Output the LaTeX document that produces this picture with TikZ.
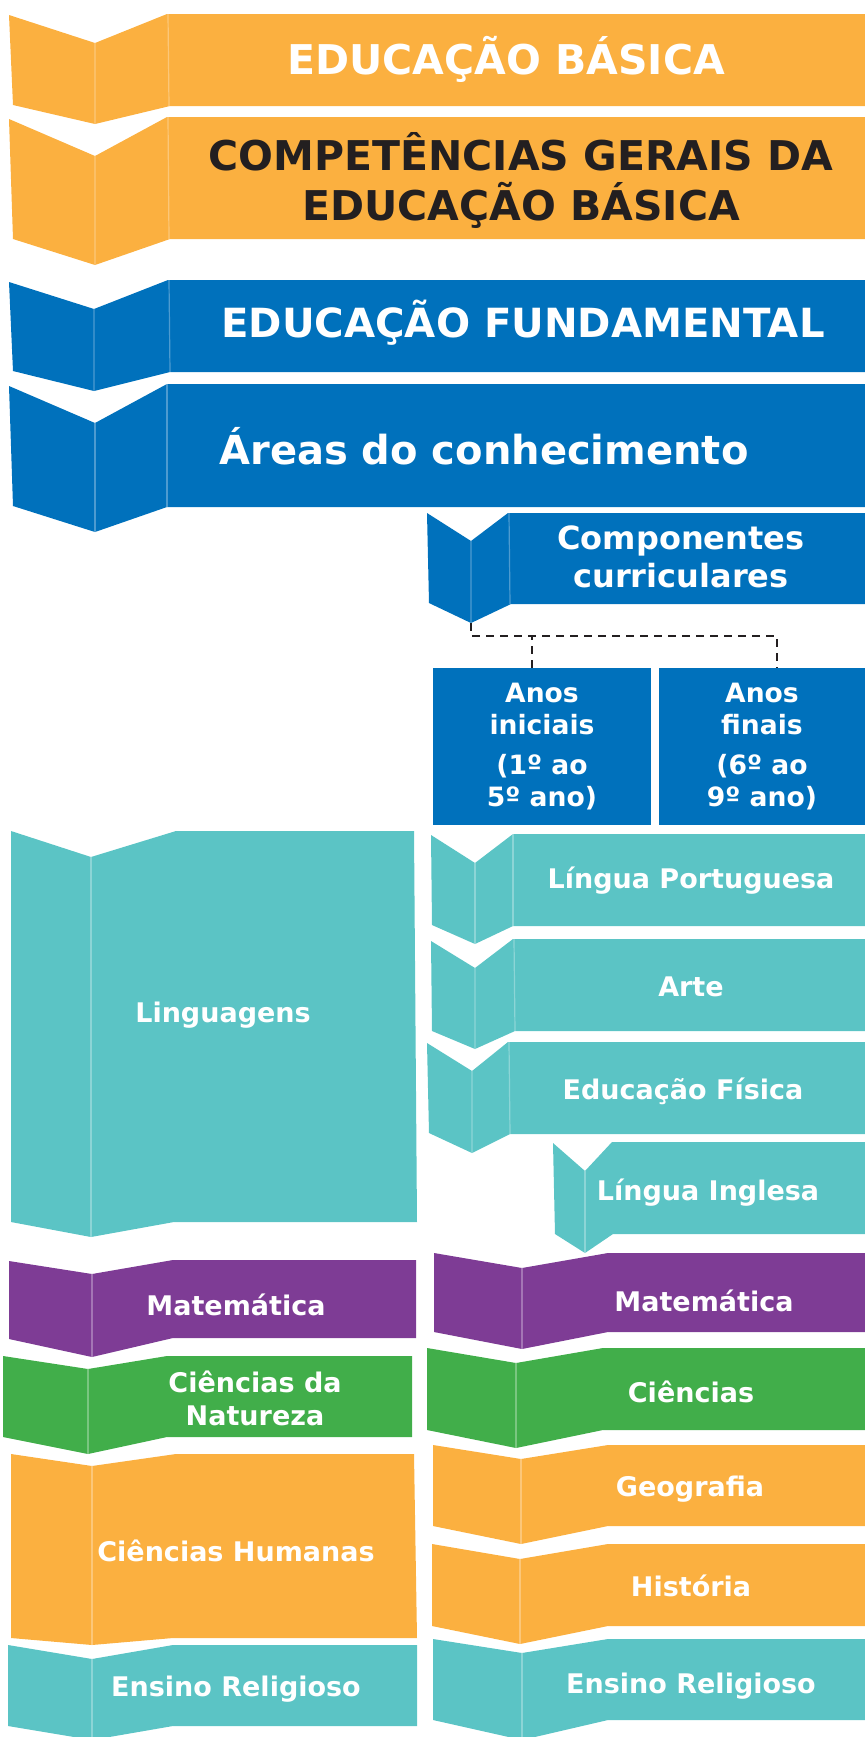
\documentclass[tikz,border=0pt]{standalone}
\usepackage{fontspec}
\setmainfont{DejaVu Sans}
\definecolor{laranja}{RGB}{251,176,64}
\definecolor{azul}{RGB}{0,113,188}
\definecolor{turquesa}{RGB}{91,196,197}
\definecolor{roxo}{RGB}{126,60,149}
\definecolor{verde}{RGB}{65,174,74}
\definecolor{escuro}{RGB}{35,31,32}
\tikzset{
  faixa/.style={fill=#1},
  dobra/.style={draw=white, draw opacity=0.3, line width=0.6pt},
  titulo/.style={text=white, font=\fontsize{20.5}{25}\selectfont\bfseries, align=center},
  rotulo/.style={text=white, font=\fontsize{13.5}{16.5}\selectfont\bfseries, align=center},
  caixa/.style={fill=azul, text=white, font=\fontsize{13.3}{16}\selectfont\bfseries, align=center, inner sep=0pt, minimum height=78.5pt},
  tracejado/.style={draw=escuro, line width=1pt, dash pattern=on 4pt off 3pt}
}
\begin{document}
\begin{tikzpicture}[x=0.5pt,y=-0.5pt]
	\useasboundingbox (0,0) rectangle (865,1737);
	\fill[faixa=laranja] (9,15)--(95,43)--(167,14)--(865,14)--(865,106)--(170,106)--(95,124)--(13,105)--cycle;
	\fill[faixa=laranja] (9,119)--(95,156)--(167,117)--(865,117)--(865,239)--(170,239)--(95,265)--(13,239)--cycle;
	\fill[faixa=azul] (9,282)--(94,309)--(168,280)--(865,280)--(865,372)--(170,372)--(94,391)--(13,371)--cycle;
	\fill[faixa=azul] (9,386)--(95,423)--(167,384)--(865,384)--(865,507)--(167,507)--(95,532)--(13,506)--cycle;
	\fill[faixa=azul] (427,513)--(471,541)--(508,513)--(865,513)--(865,604)--(511,604)--(471,623)--(429,603)--cycle;
	\draw[dobra] (95,43)--(95,124) (168,14)--(169,106);
	\draw[dobra] (95,156)--(95,265) (168,117)--(169,239);
	\draw[dobra] (94,309)--(94,391) (169,280)--(170,372);
	\draw[dobra] (95,423)--(95,532) (167,384)--(167,507);
	\draw[dobra] (471,541)--(471,623) (509,513)--(510,604);
	\node[titulo] (eb) at (506,59) {EDUCAÇÃO BÁSICA};
	\node[titulo, text=escuro] (cg) at (521,180) {COMPETÊNCIAS GERAIS DA\\EDUCAÇÃO BÁSICA};
	\node[titulo, font=\fontsize{20.1}{25}\selectfont\bfseries] (ef) at (523,323) {EDUCAÇÃO FUNDAMENTAL};
	\node[titulo, font=\fontsize{20}{25}\selectfont\bfseries] (ac) at (484,446) {Áreas do conhecimento};
	\node[rotulo, font=\fontsize{16}{19}\selectfont\bfseries] (comp) at (681,557) {Componentes\\curriculares};
	\coordinate (compnotch) at (471,623);
	\coordinate (tee) at (471,636);
	\node[caixa, minimum width=109pt] (iniciais) at (542,746.5) {Anos\\iniciais\\[4pt](1º ao\\5º ano)};
	\node[caixa, minimum width=103pt] (finais) at (762,746.5) {Anos\\finais\\[4pt](6º ao\\9º ano)};
	\draw[tracejado] (compnotch) -- (tee) -| ([xshift=7.5pt]finais.north);
	\draw[tracejado] ([xshift=-5pt]iniciais.north) -- ([xshift=-5pt]iniciais.north |- tee);
	\fill[faixa=turquesa] (431,835)--(475,863)--(513,834)--(865,834)--(865,926)--(513,926)--(475,944)--(432,925)--cycle;
	\fill[faixa=turquesa] (431,941)--(475,968)--(513,939)--(865,939)--(865,1031)--(515,1031)--(475,1049)--(432,1031)--cycle;
	\fill[faixa=turquesa] (427,1043)--(472,1071)--(508,1042)--(865,1042)--(865,1134)--(510,1134)--(472,1153)--(429,1133)--cycle;
	\fill[faixa=turquesa] (553,1143)--(585,1171)--(612,1142)--(865,1142)--(865,1234)--(613,1234)--(585,1253)--(555,1234)--cycle;
	\fill[faixa=turquesa] (11,831)--(91,857)--(176,831)--(414,831)--(417,1222)--(174,1222)--(91,1237)--(11,1222)--cycle;
	\draw[dobra] (475,863)--(475,944) (513,834)--(513,926);
	\draw[dobra] (475,968)--(475,1049) (514,939)--(515,1031);
	\draw[dobra] (472,1071)--(472,1153) (509,1042)--(510,1134);
	\draw[dobra] (585,1171)--(585,1253);
	\draw[dobra] (91,857)--(91,1237);
	\node[rotulo] (lp) at (691,881) {Língua Portuguesa};
	\node[rotulo] (arte) at (691,987) {Arte};
	\node[rotulo] (edf) at (683,1091) {Educação Física};
	\node[rotulo] (li) at (708,1193) {Língua Inglesa};
	\node[rotulo] (ling) at (223,1015) {Linguagens};
	\fill[faixa=roxo] (9,1261)--(92,1274)--(173,1260)--(416,1260)--(416,1338)--(173,1338)--(92,1357)--(9,1339)--cycle;
	\fill[faixa=verde] (3,1356)--(88,1369)--(167,1356)--(412,1356)--(412,1437)--(167,1437)--(88,1454)--(3,1437)--cycle;
	\fill[faixa=laranja] (11,1454)--(92,1466)--(176,1454)--(414,1454)--(417,1638)--(173,1638)--(92,1645)--(11,1638)--cycle;
	\fill[faixa=turquesa] (8,1645)--(92,1659)--(173,1645)--(417,1645)--(417,1726)--(173,1726)--(92,1740)--(8,1726)--cycle;
	\draw[dobra] (92,1274)--(92,1357) (88,1369)--(88,1454) (92,1466)--(92,1645) (92,1659)--(92,1740);
	\fill[faixa=roxo] (434,1253)--(522,1268)--(608,1253)--(865,1253)--(865,1332)--(608,1332)--(522,1349)--(434,1332)--cycle;
	\fill[faixa=verde] (427,1348)--(516,1363)--(603,1348)--(865,1348)--(865,1430)--(603,1430)--(516,1448)--(427,1430)--cycle;
	\fill[faixa=laranja] (433,1445)--(521,1459)--(608,1445)--(865,1445)--(865,1526)--(608,1526)--(521,1544)--(433,1526)--cycle;
	\fill[faixa=laranja] (432,1544)--(520,1559)--(608,1544)--(865,1544)--(865,1626)--(608,1626)--(520,1644)--(432,1626)--cycle;
	\fill[faixa=turquesa] (433,1639)--(522,1653)--(608,1639)--(865,1639)--(865,1720)--(608,1720)--(522,1740)--(433,1720)--cycle;
	\draw[dobra] (522,1268)--(522,1349) (516,1363)--(516,1448) (521,1459)--(521,1544) (520,1559)--(520,1644) (522,1653)--(522,1740);
	\node[rotulo] (matl) at (236,1305) {Matemática};
	\node[rotulo] (cnat) at (255,1398) {Ciências da\\Natureza};
	\node[rotulo] (chum) at (236,1551) {Ciências Humanas};
	\node[rotulo] (erl) at (236,1689) {Ensino Religioso};
	\node[rotulo] (matr) at (704,1301) {Matemática};
	\node[rotulo] (cien) at (691,1392) {Ciências};
	\node[rotulo] (geo) at (690,1489) {Geografia};
	\node[rotulo] (hist) at (691,1586) {História};
	\node[rotulo] (err) at (691,1686) {Ensino Religioso};
\end{tikzpicture}
\end{document}
